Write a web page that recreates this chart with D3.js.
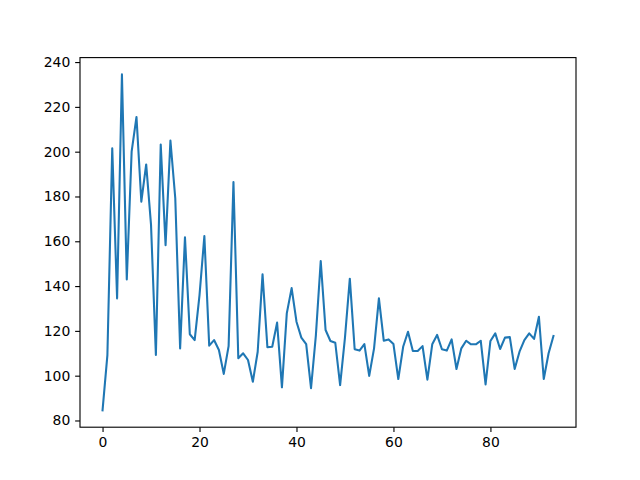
<!DOCTYPE html>
<html>
<head>
<meta charset="utf-8">
<script src="https://cdn.jsdelivr.net/npm/d3@7"></script>
<style>
  html, body { margin: 0; padding: 0; background: #fff; }
  svg { display: block; }
  text { font-family: "DejaVu Sans", sans-serif; font-size: 13.9px; fill: #000; }
</style>
</head>
<body>
<svg id="chart" width="640" height="480"></svg>
<script>
const values = [84.5, 109.2, 201.5, 134.5, 234.5, 143, 200, 215.5, 177.7, 194.3,
  167.3, 109.2, 203.2, 158.3, 205, 179.2, 112.2, 161.8, 118.5, 115.9,
  136, 162.3, 113.4, 115.9, 111.5, 100.8, 113.2, 186.5, 107.8, 110,
  107, 97.3, 110.7, 145.3, 112.7, 112.9, 123.7, 94.8, 127.8, 139.1,
  124.1, 117, 114.1, 94.4, 118, 151.2, 120.4, 115.5, 114.7, 95.8,
  117, 143.3, 111.8, 111.2, 114.1, 99.9, 112.2, 134.5, 115.6, 116.2,
  114.1, 98.5, 112.9, 119.6, 111, 111, 113.2, 98.2, 114, 118.2,
  111.8, 111.2, 116.2, 103, 112.2, 115.6, 114, 114, 115.6, 96.1,
  115.5, 118.9, 111.9, 117, 117.2, 103, 110.7, 115.9, 118.9, 116.4,
  126.3, 98.5, 110, 117.7];
const xTicks = [0, 20, 40, 60, 80];
const yTicks = [80, 100, 120, 140, 160, 180, 200, 220, 240];

const mLeft = 80, mRight = 576, mTop = 57.6, mBottom = 427.2;
const svg = d3.select("#chart");

const n = values.length;
const xPad = (n - 1) * 0.05;
const yMin = d3.min(values), yMax = d3.max(values);
const yPad = (yMax - yMin) * 0.05;

const x = d3.scaleLinear().domain([-xPad, n - 1 + xPad]).range([mLeft, mRight]);
const y = d3.scaleLinear().domain([yMin - yPad, yMax + yPad]).range([mBottom, mTop]);

const line = d3.line().x((d, i) => x(i)).y(d => y(d));

svg.append("path")
  .datum(values)
  .attr("d", line)
  .attr("fill", "none")
  .attr("stroke", "#1f77b4")
  .attr("stroke-width", 2.08)
  .attr("stroke-linejoin", "round")
  .attr("stroke-linecap", "square");

const xAxis = d3.axisBottom(x).tickValues(xTicks).tickSize(4.86).tickPadding(4.86).tickFormat(d3.format("d"));
const yAxis = d3.axisLeft(y).tickValues(yTicks).tickSize(4.86).tickPadding(4.86).tickFormat(d3.format("d"));

const gx = svg.append("g").attr("transform", `translate(0,${mBottom})`).call(xAxis);
const gy = svg.append("g").attr("transform", `translate(${mLeft},0)`).call(yAxis);
[gx, gy].forEach(g => {
  g.select(".domain").remove();
  g.selectAll(".tick line").attr("stroke", "#000").attr("stroke-width", 1.11);
  g.selectAll(".tick text").attr("font-family", "DejaVu Sans, sans-serif").attr("font-size", "13.9px").attr("fill", "#000");
});

svg.append("rect")
  .attr("x", mLeft).attr("y", mTop)
  .attr("width", mRight - mLeft).attr("height", mBottom - mTop)
  .attr("fill", "none").attr("stroke", "#000").attr("stroke-width", 1.11);
</script>
</body>
</html>
